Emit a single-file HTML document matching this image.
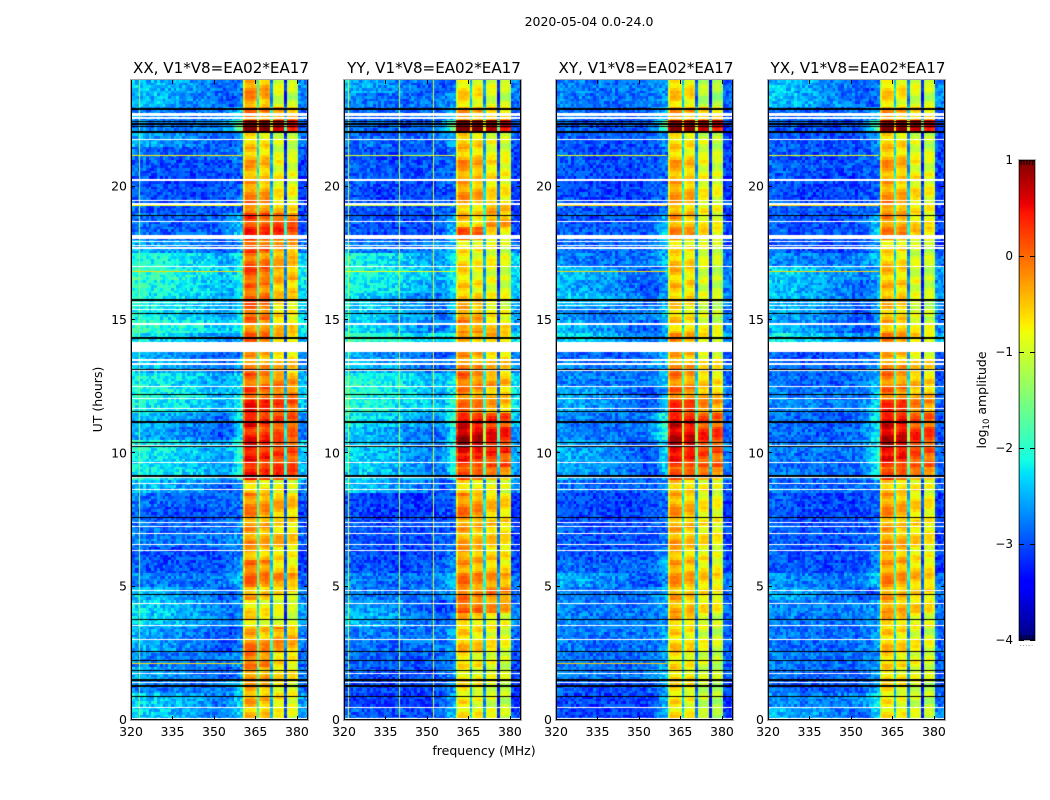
<!DOCTYPE html>
<html lang="en">
<head>
<meta charset="utf-8">
<title>2020-05-04 0.0-24.0</title>
<style>
html,body{margin:0;padding:0;background:#fff;}
#stage{position:relative;width:1050px;height:800px;overflow:hidden;background:#fff;}
canvas{position:absolute;display:block;}
svg{position:absolute;left:0;top:0;}
text{font-family:"DejaVu Sans","Liberation Sans",sans-serif;fill:#000;}
</style>
</head>
<body>
<div id="stage">
<svg id="overlay" width="1050" height="800">
<defs><linearGradient id="jetGradient" x1="0" y1="1" x2="0" y2="0"></linearGradient></defs>
<text x="589" y="26" text-anchor="middle" font-size="12.5">2020-05-04 0.0-24.0</text>
<text x="484" y="755" text-anchor="middle" font-size="12.5">frequency (MHz)</text>
<text transform="translate(102,399.5) rotate(-90)" text-anchor="middle" font-size="12.5">UT (hours)</text>
<text transform="translate(986,400) rotate(-90)" text-anchor="middle" font-size="12.5">log<tspan font-size="8.5" dy="3">10</tspan><tspan dy="-3"> amplitude</tspan></text>
</svg>
</div>
<script>
// ---- Categories and tick labels ----
const panelTitles = ["XX, V1*V8=EA02*EA17","YY, V1*V8=EA02*EA17","XY, V1*V8=EA02*EA17","YX, V1*V8=EA02*EA17"];
const xTicks = [320,335,350,365,380];
const yTicks = [0,5,10,15,20];
const colorbarTicks = [1,0,-1,-2,-3,-4];

// ---- log10 amplitude per half-hour block, reading from 24h down to 0h ----
const backgroundXX = [
-2.6,-2.6,-2.8,-2.8,-2.7,-2.9,-3.0,-3.05,-3.0,-3.0,-2.9,-2.9,
-2.7,-2.2,-2.1,-2.2,-2.3,-2.3,-2.1,-2.4,-2.7,-2.6,-2.3,-2.2,
-2.3,-2.6,-2.7,-2.3,-2.4,-2.3,-2.6,-2.9,-3.0,-2.9,-2.8,-3.0,
-3.0,-2.8,-2.6,-2.5,-2.5,-2.7,-2.7,-2.8,-2.7,-2.8,-2.5,-2.5];
const backgroundYY = [
-2.7,-2.8,-2.9,-2.9,-2.9,-3.0,-3.0,-3.0,-3.05,-3.0,-3.0,-3.05,
-2.8,-2.3,-2.2,-2.3,-2.5,-2.5,-2.5,-2.1,-2.7,-2.6,-2.2,-2.2,
-2.2,-2.4,-2.6,-2.5,-2.5,-2.5,-2.6,-3.1,-3.1,-3.0,-3.0,-3.05,
-3.0,-2.8,-2.8,-2.7,-2.6,-2.8,-2.85,-2.95,-3.0,-3.05,-3.1,-3.0];
const backgroundXY = [
-2.8,-2.8,-2.9,-3.0,-3.0,-3.0,-3.0,-3.05,-3.05,-3.0,-3.0,-2.95,
-2.9,-2.8,-2.6,-2.7,-2.6,-2.75,-2.65,-2.5,-2.9,-2.8,-2.8,-2.7,
-2.7,-2.8,-2.8,-2.7,-2.7,-2.7,-2.9,-3.05,-3.05,-3.0,-3.0,-3.0,
-2.9,-2.7,-2.8,-2.8,-2.8,-2.8,-2.85,-2.85,-2.8,-3.0,-3.1,-3.1];
const backgroundYX = [
-2.6,-2.6,-2.9,-3.0,-3.0,-3.0,-3.0,-3.05,-3.05,-3.0,-3.0,-3.0,
-3.0,-2.75,-2.5,-2.6,-2.6,-2.7,-2.7,-2.4,-3.0,-2.9,-2.9,-2.8,
-2.75,-2.9,-2.9,-2.8,-2.85,-2.85,-2.9,-3.05,-3.05,-3.0,-3.0,-3.0,
-3.0,-2.75,-2.7,-2.75,-2.8,-2.85,-2.85,-2.85,-2.9,-2.95,-2.75,-2.65];

// lower sub-bands (360-370 MHz)
const lowBandXX = [
-0.4,-0.4,-0.2,0.9,-0.7,-0.6,-0.5,-0.45,-0.35,-0.2,0.1,0.2,
0.0,-0.15,0.0,-0.15,-0.1,-0.1,-0.25,-0.1,-0.4,-0.3,-0.1,0.05,
0.25,0.35,0.25,0.35,0.3,0.2,-0.7,-0.3,-0.3,-0.4,-0.4,-0.5,
-0.2,-0.2,-0.5,-0.8,-0.8,-0.5,-0.25,-0.15,-0.35,-0.5,-0.45,-0.6];
const lowBandYY = [
-0.8,-0.75,-0.4,1.0,-0.6,-0.6,-0.4,-0.45,-0.4,-0.6,-0.6,-0.1,
-0.8,-0.8,-0.8,-0.7,-0.6,-0.4,-0.3,-0.6,-0.4,-0.3,-0.15,-0.25,
-0.2,0.4,0.65,0.65,0.25,-0.1,-0.7,-0.35,-0.25,-0.45,-0.5,-0.4,
-0.4,-0.25,-0.2,-0.1,-0.6,-0.7,-0.6,-0.75,-0.85,-0.85,-0.85,-0.8];
const lowBandXY = [
-0.7,-0.7,-0.4,0.8,-0.7,-0.7,-0.5,-0.5,-0.45,-0.5,-0.45,-0.35,
-0.75,-0.65,-0.65,-0.6,-0.7,-0.7,-0.65,-0.4,-0.5,-0.35,-0.25,-0.15,
0.1,0.45,0.55,0.55,0.3,-0.1,-0.6,-0.5,-0.45,-0.5,-0.5,-0.55,
-0.45,-0.4,-0.5,-0.5,-0.6,-0.75,-0.7,-0.75,-0.75,-0.8,-0.8,-0.8];
const lowBandYX = [
-0.75,-0.75,-0.4,0.85,-0.65,-0.6,-0.45,-0.5,-0.45,-0.35,-0.35,-0.3,
-0.75,-0.7,-0.65,-0.55,-0.6,-0.6,-0.55,-0.35,-0.5,-0.35,-0.25,-0.15,
0.15,0.45,0.55,0.55,0.35,-0.05,-0.6,-0.45,-0.4,-0.5,-0.45,-0.45,
-0.4,-0.35,-0.45,-0.45,-0.55,-0.7,-0.65,-0.7,-0.75,-0.8,-0.85,-0.85];

// upper sub-bands (370-380 MHz)
const highBandXX = [
-1.0,-1.0,-0.3,0.55,-1.0,-1.0,-0.85,-0.8,-0.8,-0.6,0.05,0.25,
-0.3,-0.45,-0.35,-0.5,-0.6,-0.7,-0.55,-0.5,-0.6,-0.5,-0.2,-0.1,
0.15,0.15,0.05,0.2,0.2,0.2,-0.9,-0.45,-0.5,-0.65,-0.5,-0.7,
-0.65,-0.25,-0.7,-1.0,-0.9,-0.35,-0.35,-0.65,-0.7,-0.8,-0.75,-0.9];
const highBandYY = [
-1.0,-1.0,-0.5,0.7,-0.9,-0.9,-0.7,-0.7,-0.7,-0.4,-0.3,-0.7,
-0.9,-0.9,-0.9,-0.9,-0.85,-0.75,-0.6,-0.45,-0.55,-0.5,-0.35,-0.5,
-0.4,0.25,0.4,0.4,0.2,-0.3,-0.9,-0.55,-0.55,-0.55,-0.6,-0.6,
-0.6,-0.3,-0.15,-0.3,-0.75,-0.85,-0.8,-0.9,-0.95,-0.95,-1.0,-1.0];
const highBandXY = [
-1.2,-1.2,-0.5,0.6,-1.0,-1.0,-0.9,-0.85,-0.85,-0.8,-0.8,-0.7,
-0.95,-1.0,-1.0,-1.0,-1.0,-1.0,-0.9,-0.75,-0.8,-0.7,-0.6,-0.45,
-0.25,0.1,0.25,0.2,0.1,-0.3,-0.85,-0.8,-0.75,-0.75,-0.75,-0.8,
-0.75,-0.6,-0.7,-0.75,-0.9,-1.0,-0.95,-1.0,-1.05,-1.1,-1.1,-1.2];
const highBandYX = [
-1.0,-1.0,-0.55,0.65,-1.0,-0.95,-0.85,-0.8,-0.75,-0.7,-0.7,-0.6,
-1.0,-1.0,-1.0,-0.95,-1.0,-0.95,-0.85,-0.65,-0.75,-0.6,-0.5,-0.45,
-0.2,0.1,0.25,0.2,0.1,-0.3,-0.8,-0.7,-0.65,-0.65,-0.65,-0.75,
-0.65,-0.5,-0.6,-0.65,-0.8,-0.95,-0.85,-0.85,-0.95,-1.0,-1.05,-1.05];

// lift of the channels just below the band, per half-hour block
const shoulderBoost = [
0,0,0.3,1.1,0.2,0,0,0,0,0,0.4,0.5,
0.2,0.2,0.2,0.2,0.3,0.2,0.2,0.1,0.2,0.2,0.3,0.3,
0.4,0.6,0.6,0.6,0.6,0.5,0,0,0,0,0.1,0.2,
0.2,0.2,0.1,0,0,0.1,0.1,0.1,0.2,0.3,0.5,0.5];

// ---- Spectral shape, one value per 1 MHz channel ----
const backgroundChannelOffset = [
0.1,0.1,0.05,0.05,0.1,0.05,0,0,0.05,0.05,0,0,-0.05,0,0,0.05,0,-0.05,0,0,
0,-0.05,-0.05,0,0,0,-0.05,0,0.05,0,0,0,0,0.05,0.05,0.05,0.05,0.1,0.1,0.15];
const brightRowTaper = [
0.1,0.1,0.1,0.1,0.1,0.1,0.1,0.1,0.1,0.1,0.1,0.1,0.1,0.05,0.05,0.05,0.05,0.05,0,0,
0,0,-0.05,-0.05,-0.1,-0.1,-0.15,-0.15,-0.2,-0.2,-0.25,-0.3,-0.3,-0.35,-0.35,-0.4,-0.4,-0.4,-0.35,-0.3];
const shoulderChannelWeight = [0.1,0.2,0.3,0.5,0.7,0.9,1];
const bandChannelOffset = [
-0.3,0.15,0.15,0.15,0.05,-1.6,-0.15,0,0.05,0,
-1.7,-0.05,0.05,0.05,0,-2.3,-0.15,-0.05,-0.05,-0.2];
const edgeChannelOffset = [-0.05,-0.1,-0.1,-0.05];

// ---- Fine structure residuals ----
const speckleResidual = [
0.2,-0.15,0.05,-0.3,0.25,0.1,-0.2,0.3,-0.05,-0.25,0.15,0,-0.1,0.3,-0.3,0.1,
0.05,-0.2,0.25,-0.1,0.15,-0.3,0,0.2,-0.15,0.3,-0.05,0.1,-0.25,0.2,-0.1,0.05,
0.25,-0.3,0.15,-0.05,0.1,-0.2,0.3,0,-0.15,0.2,-0.25,0.05,0.15,-0.1,0.25,-0.3,
0.1,-0.05,0.2,-0.2,0.3,-0.15,0,0.1,-0.25,0.15,-0.1,0.05,0.2];
const bandRipple = [0.15,0.2,0.05,-0.15,-0.2,-0.1,0.1,0.2,-0.05,-0.2,-0.15,0.05,0.2];

// ---- Flagged time ranges (UT hours, high then low) ----
const blankedHours = [
[22.76,22.65],[22.6,22.55],[21.78,21.74],[20.27,20.23],[19.5,19.46],[19.37,19.33],[18.71,18.67],
[18.19,18.03],[17.97,17.93],[17.83,17.79],[17.72,17.68],[17.01,16.97],[15.66,15.62],[15.55,15.51],
[15.43,15.39],[14.87,14.83],[14.19,13.81],[13.52,13.48],[13.37,13.33],[13.12,13.08],[12.53,12.49],
[12.08,12.04],[11.71,11.67],[10.33,10.29],[9.67,9.63],[9.1,9.06],[8.9,8.86],[8.67,8.61],[7.43,7.39],
[7.28,7.24],[7.02,6.98],[6.59,6.55],[6.38,6.34],[4.87,4.83],[4.4,4.36],[3.56,3.52],[3.05,3.01],
[1.78,1.74],[1.42,1.38],[0.5,0.46],[0.08,0]];
const zeroedHours = [
[22.96,22.88],[22.46,22.41],[22.37,22.33],[22.26,22.22],[22.07,22.03],[18.95,18.91],[15.77,15.73],
[15.26,15.22],[14.36,14.27],[13.18,13.14],[12.23,12.19],[11.6,11.56],[11.23,11.19],[11.16,11.12],
[10.41,10.37],[10.27,10.23],[9.18,9.12],[7.62,7.58],[4.74,4.7],[3.8,3.76],[2.59,2.55],[2.25,2.21],
[1.87,1.83],[1.52,1.48],[1.3,1.22],[0.9,0.86]];

// ---- Isolated interference ----
const rfiRowPanel = [0,0,0,0,1,1,1,2,2,2,2,3,3,3];
const rfiRowHour = [21.2,19.3,16.83,2.15,21.2,19.3,16.83,21.2,19.3,16.83,2.13,21.2,19.3,16.83];
const rfiRowLevel = [-0.7,-0.8,-0.6,-0.6,-0.9,-1.0,-0.8,-0.8,-0.6,-0.6,-0.5,-0.8,-0.6,-0.6];
const rfiColumnPanel = [1,1,1,0];
const rfiColumnMhz = [340,352,321.5,323];
const rfiColumnLevel = [-1.2,-1.0,-1.0,-1.4];

// ---- Layout of the figure ----
const panelLeft = [131,344,556,768];
const panelWidth = 177, panelTop = 80, panelHeight = 640;
const mhzMin = 320, mhzMax = 384, channelCount = 64, rowCount = 240, hoursMax = 24;
const channelPhase = 0.4;
const panelBackground = [backgroundXX,backgroundYY,backgroundXY,backgroundYX];
const panelLowBand = [lowBandXX,lowBandYY,lowBandXY,lowBandYX];
const panelHighBand = [highBandXX,highBandYY,highBandXY,highBandYX];

const xScale = mhz => (mhz - mhzMin) * panelWidth / (mhzMax - mhzMin);
const yScale = hour => (hoursMax - hour) * panelHeight / hoursMax;

function lerpStops(stops, t) {
  for (let i = 1; i < stops.length; i++) {
    if (t <= stops[i][0]) {
      const a = stops[i - 1], b = stops[i];
      return a[1] + (b[1] - a[1]) * (t - a[0]) / (b[0] - a[0]);
    }
  }
  return stops[stops.length - 1][1];
}
const jetR = [[0,0],[0.35,0],[0.66,1],[0.89,1],[1,0.5]];
const jetG = [[0,0],[0.125,0],[0.375,1],[0.64,1],[0.91,0],[1,0]];
const jetB = [[0,0.5],[0.11,1],[0.34,1],[0.65,0],[1,0]];
function jet(t) {
  t = Math.max(0, Math.min(1, t));
  return "rgb(" + Math.round(255 * lerpStops(jetR, t)) + "," + Math.round(255 * lerpStops(jetG, t)) + "," + Math.round(255 * lerpStops(jetB, t)) + ")";
}
const colorFor = level => jet((level + 4) / 5);

function cellLevel(p, c, r) {
  const block = Math.floor(r / 5);
  const speck = speckleResidual[(c * c * 3 + r * r * 5 + c * r + p * 7) % speckleResidual.length];
  const ripple = bandRipple[(r + Math.floor(c / 5)) % bandRipple.length];
  const bg = panelBackground[p][block];
  if (c < 40) {
    let level = bg + backgroundChannelOffset[c] + speck;
    if (bg > -2.75) level += brightRowTaper[c];
    if (c >= 33) level += shoulderBoost[block] * shoulderChannelWeight[c - 33];
    return level;
  }
  if (c < 60) {
    const base = (c < 50 ? panelLowBand : panelHighBand)[p][block];
    return base + bandChannelOffset[c - 40] + ripple + speck * 0.25;
  }
  return bg + edgeChannelOffset[c - 60] + speck;
}

const stage = document.getElementById("stage");
const svg = document.getElementById("overlay");
const NS = "http://www.w3.org/2000/svg";

function svgEl(tag, attrs) {
  const el = document.createElementNS(NS, tag);
  for (const k in attrs) el.setAttribute(k, attrs[k]);
  return el;
}

panelTitles.forEach((title, p) => {
  const left = panelLeft[p];
  const canvas = document.createElement("canvas");
  
  
  canvas.width = panelWidth;
  canvas.height = panelHeight;
  canvas.style.left = left + "px";
  canvas.style.top = panelTop + "px";
  stage.insertBefore(canvas, svg);
  const ctx = canvas.getContext("2d");

  for (let r = 0; r < rowCount; r++) {
    const y0 = Math.round(yScale(hoursMax - r * hoursMax / rowCount));
    const y1 = Math.round(yScale(hoursMax - (r + 1) * hoursMax / rowCount));
    for (let c = 0; c < channelCount; c++) {
      const x0 = c === 0 ? 0 : Math.round(xScale(mhzMin + c + channelPhase));
      const x1 = Math.round(xScale(mhzMin + c + 1 + channelPhase));
      ctx.fillStyle = colorFor(cellLevel(p, c, r));
      ctx.fillRect(x0, y0, x1 - x0, y1 - y0);
    }
  }
  rfiColumnPanel.forEach((panel, i) => {
    if (panel !== p) return;
    ctx.fillStyle = colorFor(rfiColumnLevel[i]);
    ctx.fillRect(Math.round(xScale(rfiColumnMhz[i])), 0, 1, panelHeight);
  });
  rfiRowPanel.forEach((panel, i) => {
    if (panel !== p) return;
    ctx.fillStyle = colorFor(rfiRowLevel[i]);
    ctx.fillRect(0, Math.round(yScale(rfiRowHour[i])), Math.round(xScale(360)), 1);
  });
  blankedHours.forEach(span => {
    const y0 = Math.round(yScale(span[0]));
    ctx.fillStyle = "#ffffff";
    ctx.fillRect(0, y0, panelWidth, Math.max(1, Math.round(yScale(span[1])) - y0));
  });
  zeroedHours.forEach(span => {
    const y0 = Math.round(yScale(span[0]));
    ctx.fillStyle = "#000000";
    ctx.fillRect(0, y0, panelWidth, Math.max(1, Math.round(yScale(span[1])) - y0));
  });

  const frame = svgEl("rect", {x: left - 0.5, y: panelTop - 0.5, width: panelWidth + 1, height: panelHeight + 1, fill: "none", stroke: "#a8a8a8"});
  
  
  svg.appendChild(frame);

  const spineLeft = svgEl("rect", {x: left, y: panelTop, width: 1, height: panelHeight, fill: "#000"});
  
  
  svg.appendChild(spineLeft);

  const spineRight = svgEl("rect", {x: left + panelWidth - 1, y: panelTop, width: 1, height: panelHeight, fill: "#000"});
  
  
  svg.appendChild(spineRight);

  const spineBottom = svgEl("rect", {x: left, y: panelTop + panelHeight - 1, width: panelWidth, height: 1, fill: "#000"});
  
  
  svg.appendChild(spineBottom);

  const heading = svgEl("text", {x: left + panelWidth / 2 + 1.5, y: 73, "text-anchor": "middle", "font-size": "15.1"});
  
  
  heading.textContent = title;
  svg.appendChild(heading);

  xTicks.forEach(tick => {
    const x = Math.round(left + xScale(tick)) + 0.5;
    const bottomMark = svgEl("line", {x1: x, x2: x, y1: panelTop + panelHeight, y2: panelTop + panelHeight - 4, stroke: "#000"});
    
    
    svg.appendChild(bottomMark);
    const topMark = svgEl("line", {x1: x, x2: x, y1: panelTop, y2: panelTop + 4, stroke: "#000"});
    
    
    svg.appendChild(topMark);
    const label = svgEl("text", {x: left + xScale(tick), y: 736, "text-anchor": "middle", "font-size": "12.5"});
    
    
    label.textContent = tick;
    svg.appendChild(label);
  });

  yTicks.forEach(tick => {
    const y = Math.round(panelTop + yScale(tick)) - 0.5;
    const leftMark = svgEl("line", {x1: left, x2: left + 4, y1: y, y2: y, stroke: "#000"});
    
    
    svg.appendChild(leftMark);
    const rightMark = svgEl("line", {x1: left + panelWidth, x2: left + panelWidth - 4, y1: y, y2: y, stroke: "#000"});
    
    
    svg.appendChild(rightMark);
    const label = svgEl("text", {x: left - 4, y: panelTop + yScale(tick) + 4, "text-anchor": "end", "font-size": "12.5"});
    
    
    label.textContent = tick;
    svg.appendChild(label);
  });
});

// ---- Colour bar ----
const colorbarLeft = 1019, colorbarWidth = 16, colorbarTop = 160, colorbarHeight = 480;
const colorbarMinorFractions = [0.1,0.2,0.3,0.4,0.5];
const colorbarStops = [0,0.11,0.125,0.34,0.35,0.375,0.64,0.65,0.66,0.89,0.91,1];
const cbarY = v => colorbarTop + (1 - v) * colorbarHeight / 5;

const gradient = document.getElementById("jetGradient");
colorbarStops.forEach(t => {
  gradient.appendChild(svgEl("stop", {offset: t, "stop-color": jet(t)}));
});

const bar = svgEl("rect", {x: colorbarLeft, y: colorbarTop, width: colorbarWidth, height: colorbarHeight, fill: "url(#jetGradient)", stroke: "#000"});


svg.appendChild(bar);

const barFrame = svgEl("rect", {x: colorbarLeft - 0.5, y: colorbarTop - 0.5, width: colorbarWidth + 1, height: colorbarHeight + 1, fill: "none", stroke: "#b0b0b0"});


svg.appendChild(barFrame);

colorbarTicks.forEach(tick => {
  const y = Math.round(cbarY(tick)) + 0.5;
  const leftMark = svgEl("line", {x1: colorbarLeft, x2: colorbarLeft + 5, y1: y, y2: y, stroke: "#000"});
  
  
  svg.appendChild(leftMark);
  const rightMark = svgEl("line", {x1: colorbarLeft + colorbarWidth, x2: colorbarLeft + colorbarWidth - 5, y1: y, y2: y, stroke: "#000"});
  
  
  svg.appendChild(rightMark);
  const label = svgEl("text", {x: 1013, y: cbarY(tick) + 4, "text-anchor": "end", "font-size": "12"});
  
  
  label.textContent = String(tick).replace("-", "\u2212");
  svg.appendChild(label);
});

colorbarMinorFractions.forEach((f, i) => {
  const x = colorbarLeft + colorbarWidth * (f + i * 0.08) + 0.5;
  const topMinor = svgEl("line", {x1: x, x2: x, y1: colorbarTop, y2: colorbarTop + 5, stroke: "#000"});
  
  
  svg.appendChild(topMinor);
  const bottomMinor = svgEl("line", {x1: x, x2: x, y1: colorbarTop + colorbarHeight, y2: colorbarTop + colorbarHeight - 5, stroke: "#000"});
  
  
  svg.appendChild(bottomMinor);
  const dot = svgEl("rect", {x: x - 1, y: 645, width: 1, height: 1, fill: "#999"});
  
  
  svg.appendChild(dot);
});
</script>
</body>
</html>
